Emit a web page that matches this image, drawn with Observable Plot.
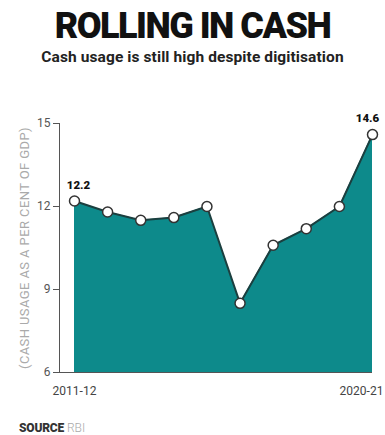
<!DOCTYPE html>
<html>
<head>
<meta charset="utf-8">
<script src="https://cdn.jsdelivr.net/npm/d3@7"></script>
<script src="https://cdn.jsdelivr.net/npm/@observablehq/plot@0.6"></script>
<style>
  html, body { margin: 0; padding: 0; background: #fff; }
  body { width: 385px; height: 435px; position: relative; overflow: hidden; font-family: Roboto, "Liberation Sans", sans-serif; }
  #title { position: absolute; left: 0; width: 385px; top: 8px; text-align: center; font-size: 36px; line-height: 36px; font-weight: 900; letter-spacing: -1.5px; color: #111; }
  #subtitle { position: absolute; left: 0; width: 385px; top: 49px; text-align: center; font-size: 15.5px; line-height: 16px; font-weight: 700; color: #222; letter-spacing: 0.1px; }
  #chart { position: absolute; left: 0; top: 80px; }
  #source { position: absolute; left: 19px; top: 421px; font-size: 12px; line-height: 14px; color: #444; }
  #source b { font-weight: 900; color: #333; letter-spacing: -0.2px; }
  #source span { color: #aaa; font-weight: 300; }
</style>
</head>
<body>
<div id="title">ROLLING IN CASH</div>
<div id="subtitle">Cash usage is still high despite digitisation</div>
<div id="chart"></div>
<div id="source"><b>SOURCE</b> <span>RBI</span></div>
<script>
const years = ["2011-12","2012-13","2013-14","2014-15","2015-16","2016-17","2017-18","2018-19","2019-20","2020-21"];
const cashPct = [12.2, 11.8, 11.5, 11.6, 12.0, 8.5, 10.6, 11.2, 12.0, 14.6];
const yTicks = [6, 9, 12, 15];
const xLabelYears = ["2011-12", "2020-21"];
const yMin = 6, yMax = 15;

const data = years.map((y, i) => ({i, year: y, v: cashPct[i]}));
const firstPt = data.filter(d => d.year === "2011-12");
const lastPt = data.filter(d => d.year === "2020-21");

const plot = Plot.plot({
  width: 385,
  height: 320,
  marginTop: 43,
  marginBottom: 28,
  marginLeft: 59,
  marginRight: 13,
  style: { fontFamily: "Roboto, 'Liberation Sans', sans-serif", background: "transparent", overflow: "visible" },
  x: { type: "linear", domain: [0, years.length - 1], insetLeft: 15, insetRight: 0 },
  y: { domain: [yMin, yMax] },
  marks: [
    Plot.areaY(data, { x: "i", y1: yMin, y2: "v", fill: "#0d8a8b" }),
    Plot.lineY(data, { x: "i", y: "v", stroke: "#1b3f3f", strokeWidth: 2 }),
    Plot.ruleY([yMin], { stroke: "#555", strokeWidth: 1 }),
    Plot.frame({ anchor: "left", stroke: "#555", strokeWidth: 1 }),
    Plot.axisY({
      ticks: yTicks, tickSize: 6, tickPadding: 3, fontSize: 12, color: "#555",
      label: "(CASH USAGE AS A PER CENT OF GDP)", labelAnchor: "center", labelArrow: "none", labelOffset: 40
    }),
    Plot.axisX(xLabelYears.slice(0, 1).map(y => years.indexOf(y)), {
      tickFormat: i => years[i], tickSize: 0, tickPadding: 14, fontSize: 12, color: "#444", label: null
    }),
    Plot.axisX(xLabelYears.slice(1).map(y => years.indexOf(y)), {
      tickFormat: i => years[i], tickSize: 0, tickPadding: 14, fontSize: 12, color: "#444", label: null, dx: -11
    }),
    Plot.dot(data, { x: "i", y: "v", r: 5, fill: "#fff", stroke: "#333", strokeWidth: 1.5 }),
    Plot.text(firstPt, { x: "i", y: "v", text: d => d.v.toFixed(1), dy: -16, dx: 4, fontWeight: 900, fontSize: 11.5, fill: "#111" }),
    Plot.text(lastPt, { x: "i", y: "v", text: d => d.v.toFixed(1), dy: -16, dx: -5, fontWeight: 900, fontSize: 11.5, fill: "#111" })
  ]
});
document.getElementById("chart").appendChild(plot);
plot.querySelectorAll("[aria-label='y-axis label'] text").forEach(t => {
  t.setAttribute("fill", "#aaa"); t.style.fontSize = "13px"; t.style.fontWeight = "400"; t.style.letterSpacing = "0.4px";
});
</script>
</body>
</html>
